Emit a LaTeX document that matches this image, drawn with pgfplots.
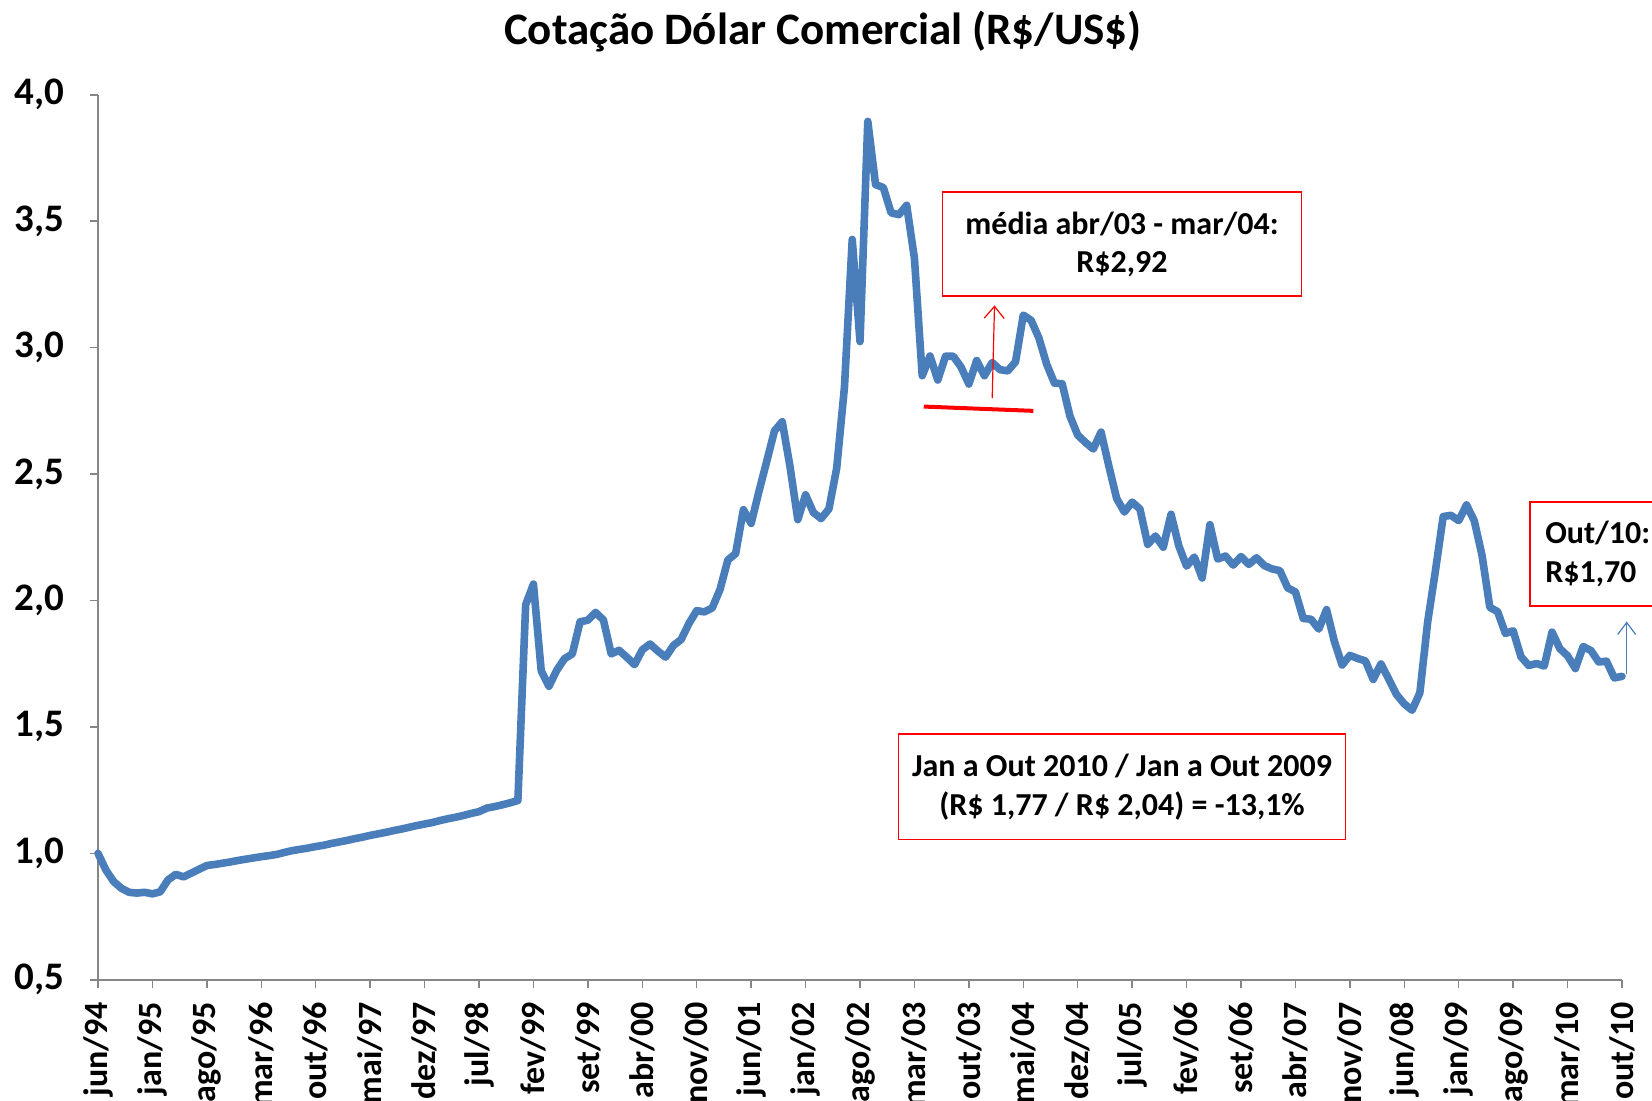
\documentclass[border=0pt]{standalone}
\usepackage{fontspec}
\setmainfont{Carlito}
\usepackage{pgfplots}
\usepackage{pgfplotstable}
\pgfplotsset{compat=1.18}
\usetikzlibrary{arrows.meta}

\definecolor{serie}{HTML}{4A7EBB}
\definecolor{eixo}{HTML}{868686}

% cotacao de fim de mes, indice 0 = jun/94
\pgfplotstableread{
m v
0 1.000
1 0.935
2 0.889
3 0.862
4 0.846
5 0.843
6 0.846
7 0.840
8 0.848
9 0.895
10 0.917
11 0.907
12 0.922
13 0.937
14 0.952
15 0.956
16 0.961
17 0.966
18 0.972
19 0.977
20 0.982
21 0.987
22 0.991
23 0.996
24 1.004
25 1.011
26 1.016
27 1.021
28 1.027
29 1.032
30 1.039
31 1.045
32 1.051
33 1.058
34 1.064
35 1.071
36 1.077
37 1.083
38 1.090
39 1.096
40 1.103
41 1.110
42 1.116
43 1.122
44 1.130
45 1.137
46 1.143
47 1.150
48 1.158
49 1.165
50 1.179
51 1.185
52 1.192
53 1.200
54 1.209
55 1.983
56 2.065
57 1.722
58 1.661
59 1.724
60 1.770
61 1.789
62 1.916
63 1.922
64 1.953
65 1.923
66 1.789
67 1.803
68 1.776
69 1.746
70 1.805
71 1.828
72 1.800
73 1.776
74 1.822
75 1.846
76 1.909
77 1.960
78 1.955
79 1.971
80 2.044
81 2.160
82 2.185
83 2.359
84 2.305
85 2.431
86 2.550
87 2.671
88 2.707
89 2.529
90 2.320
91 2.418
92 2.348
93 2.324
94 2.362
95 2.523
96 2.844
97 3.428
98 3.024
99 3.895
100 3.645
101 3.633
102 3.533
103 3.526
104 3.563
105 3.353
106 2.889
107 2.967
108 2.872
109 2.966
110 2.966
111 2.923
112 2.856
113 2.949
114 2.889
115 2.941
116 2.913
117 2.908
118 2.944
119 3.129
120 3.108
121 3.039
122 2.935
123 2.860
124 2.857
125 2.729
126 2.654
127 2.625
128 2.599
129 2.666
130 2.532
131 2.404
132 2.350
133 2.389
134 2.362
135 2.222
136 2.255
137 2.211
138 2.341
139 2.216
140 2.136
141 2.172
142 2.089
143 2.300
144 2.164
145 2.176
146 2.140
147 2.174
148 2.143
149 2.169
150 2.138
151 2.125
152 2.118
153 2.050
154 2.034
155 1.929
156 1.926
157 1.887
158 1.964
159 1.839
160 1.745
161 1.783
162 1.771
163 1.761
164 1.688
165 1.749
166 1.689
167 1.628
168 1.591
169 1.566
170 1.635
171 1.914
172 2.117
173 2.332
174 2.337
175 2.316
176 2.378
177 2.315
178 2.178
179 1.973
180 1.956
181 1.870
182 1.880
183 1.778
184 1.743
185 1.751
186 1.741
187 1.875
188 1.810
189 1.781
190 1.731
191 1.818
192 1.802
193 1.757
194 1.760
195 1.694
196 1.700
}\cambio

\begin{document}
\begin{tikzpicture}
\begin{axis}[
    scale only axis, width=762pt, height=442.5pt,
    anchor=south west, at={(0,0)},
    xmin=0, xmax=196, ymin=0.5, ymax=4,
    axis x line*=bottom, axis y line*=left,
    axis line style={eixo, line width=0.75pt, -},
    tick align=outside, major tick length=4.2pt,
    tick style={eixo, line width=0.75pt},
    xtick={0,7,...,196},
    xticklabels={jun/94,jan/95,ago/95,mar/96,out/96,mai/97,dez/97,jul/98,fev/99,set/99,abr/00,nov/00,jun/01,jan/02,ago/02,mar/03,out/03,mai/04,dez/04,jul/05,fev/06,set/06,abr/07,nov/07,jun/08,jan/09,ago/09,mar/10,out/10},
    ytick={0.5,1.0,1.5,2.0,2.5,3.0,3.5,4.0},
    /pgf/number format/assume math mode=true,
    xticklabel style={font=\fontsize{17}{21}\selectfont\bfseries, yshift=-3.5pt, rotate=90, anchor=east},
    yticklabel style={font=\fontsize{19.5}{23}\selectfont\bfseries, xshift=-9pt,
        /pgf/number format/fixed, /pgf/number format/fixed zerofill,
        /pgf/number format/precision=1, /pgf/number format/use comma},
    clip=false,
]
\addplot[serie, line width=3.8pt, line join=round, line cap=round, mark=none] table[x=m, y=v] {\cambio};

\draw[red, line width=2pt] (axis cs:106.2,2.767) -- (axis cs:120.3,2.75);
\draw[red, line width=0.6pt, -{Straight Barb[length=6pt, width=10pt]}] (axis cs:115.0,2.80) -- (axis cs:115.3,3.167);
\node[draw=red, line width=0.8pt, minimum width=179.6pt, minimum height=52.2pt, align=center,
      font=\fontsize{16}{19}\selectfont\bfseries] at (axis cs:131.7,3.41) {média abr/03 - mar/04:\\R\$2,92};
\node[draw=red, line width=0.8pt, minimum width=223.4pt, minimum height=52.7pt, align=center,
      font=\fontsize{16}{19.5}\selectfont\bfseries] at (axis cs:131.7,1.2625) {Jan a Out 2010 / Jan a Out 2009\\(R\$ 1,77 / R\$ 2,04) = -13,1\%};
\node[draw=red, line width=0.8pt, anchor=north west, minimum height=52pt, inner xsep=7.5pt, align=left,
      font=\fontsize{16}{19.5}\selectfont\bfseries] at (axis cs:184.1,2.392) {Out/10:\\R\$1,70};
\draw[serie, line width=0.6pt, -{Straight Barb[length=6pt, width=9pt]}] (axis cs:196.6,1.708) -- (axis cs:196.6,1.917);
\end{axis}
\node[font=\fontsize{22.5}{27}\selectfont\bfseries] at (362.4pt,474.1pt) {Cotação Dólar Comercial (R\$/US\$)};
\pgfresetboundingbox
\useasboundingbox (-49pt,-60.6pt) rectangle (777pt,489.9pt);
\end{tikzpicture}
\end{document}
